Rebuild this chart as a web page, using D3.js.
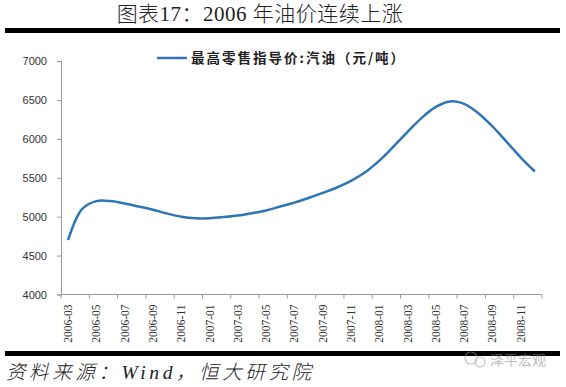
<!DOCTYPE html>
<html>
<head>
<meta charset="utf-8">
<script src="https://cdn.jsdelivr.net/npm/d3@7"></script>
<style>
  body { margin: 0; background: #fff; }
  svg { display: block; }
</style>
</head>
<body>
<svg id="chart" width="566" height="387"></svg>
<script>
// monthly categories 2006-03 .. 2008-12
const months = [
    "2006-03", "2006-04", "2006-05", "2006-06", "2006-07", "2006-08", "2006-09", "2006-10",
    "2006-11", "2006-12", "2007-01", "2007-02", "2007-03", "2007-04", "2007-05", "2007-06",
    "2007-07", "2007-08", "2007-09", "2007-10", "2007-11", "2007-12", "2008-01", "2008-02",
    "2008-03", "2008-04", "2008-05", "2008-06", "2008-07", "2008-08", "2008-09", "2008-10",
    "2008-11", "2008-12"
];
const gasoline = [
    4700, 5100, 5200, 5200, 5170, 5130, 5090, 5040,
    5000, 4980, 4980, 4995, 5015, 5045, 5080, 5130,
    5180, 5240, 5305, 5375, 5460, 5570, 5720, 5900,
    6090, 6270, 6410, 6480, 6450, 6330, 6160, 5960,
    5760, 5580
];
const yTicks = [4000, 4500, 5000, 5500, 6000, 6500, 7000];
const seriesName = "最高零售指导价:汽油（元/吨）";

const svg = d3.select("#chart");
const plotLeft = 61, plotRight = 542, plotTop = 61, plotBottom = 294.5;

const x = d3.scaleBand().domain(months).range([plotLeft, plotRight]);
const y = d3.scaleLinear().domain([4000, 7000]).range([plotBottom, plotTop]);

// title + rules
svg.append("text")
    .attr("x", 260).attr("y", 21)
    .attr("text-anchor", "middle")
    .attr("font-family", "'Liberation Serif', 'Noto Sans CJK SC'")
    .attr("font-size", 21)
    .attr("font-weight", 300)
    .attr("letter-spacing", 0.5)
    .attr("fill", "#222")
    .text("图表17：2006 年油价连续上涨");
svg.append("rect").attr("x", 5).attr("y", 28).attr("width", 555).attr("height", 5).attr("fill", "#000");
svg.append("rect").attr("x", 5).attr("y", 351).attr("width", 555).attr("height", 5).attr("fill", "#000");

// y axis
const yAxis = svg.append("g")
    .attr("transform", `translate(${plotLeft},0)`)
    .call(d3.axisLeft(y).tickValues(yTicks).tickSize(4).tickPadding(10).tickFormat(d3.format("d")));
yAxis.select(".domain").attr("stroke", "#999");
yAxis.selectAll(".tick line").attr("stroke", "#999");
yAxis.selectAll("text")
    .attr("font-family", "'Liberation Sans', Arial, sans-serif")
    .attr("font-size", 11)
    .attr("fill", "#333");

// x axis: ticks every 2 months at band edges, labels on the first month of each pair
const xg = svg.append("g");
xg.append("line")
    .attr("x1", plotLeft).attr("x2", plotRight)
    .attr("y1", plotBottom).attr("y2", plotBottom)
    .attr("stroke", "#999");
const tickMonths = months.filter((m, i) => i % 2 === 0);
xg.selectAll("line.tk")
    .data(tickMonths.concat(["end"]))
    .join("line")
    .attr("class", "tk")
    .attr("x1", d => d === "end" ? plotRight : x(d))
    .attr("x2", d => d === "end" ? plotRight : x(d))
    .attr("y1", plotBottom).attr("y2", plotBottom + 4)
    .attr("stroke", "#999");
xg.selectAll("text")
    .data(tickMonths)
    .join("text")
    .attr("transform", d => `translate(${x(d) + x.bandwidth() / 2 + 4},${plotBottom + 10}) rotate(-90)`)
    .attr("text-anchor", "end")
    .attr("font-family", "'Liberation Serif', 'Times New Roman', serif")
    .attr("font-size", 11.5)
    .attr("fill", "#333")
    .text(d => d);

// series
const line = d3.line()
    .x((d, i) => x(months[i]) + x.bandwidth() / 2)
    .y(d => y(d))
    .curve(d3.curveCatmullRom.alpha(0.5));
svg.append("path")
    .datum(gasoline)
    .attr("d", line)
    .attr("fill", "none")
    .attr("stroke", "#2f75b5")
    .attr("stroke-width", 2.5);

// legend
svg.append("line")
    .attr("x1", 157).attr("x2", 187).attr("y1", 58).attr("y2", 58)
    .attr("stroke", "#2f75b5").attr("stroke-width", 2.5);
svg.append("text")
    .attr("x", 191).attr("y", 63)
    .attr("font-family", "'Noto Sans CJK SC'")
    .attr("font-weight", "bold")
    .attr("font-size", 13.5)
    .attr("letter-spacing", 2)
    .attr("fill", "#222")
    .text(seriesName);

// source
svg.append("text")
    .attr("x", 6).attr("y", 379)
    .attr("font-family", "'Liberation Serif', 'Noto Sans CJK SC'")
    .attr("font-style", "italic")
    .attr("font-weight", 300)
    .attr("font-size", 19.5)
    .attr("letter-spacing", 3.6)
    .attr("fill", "#222")
    .text("资料来源：Wind，恒大研究院");

// watermark
const wm = svg.append("g").attr("opacity", 0.55);
wm.append("circle").attr("cx", 471).attr("cy", 358).attr("r", 6).attr("fill", "none").attr("stroke", "#999").attr("stroke-width", 1.2);
wm.append("circle").attr("cx", 480).attr("cy", 362).attr("r", 5).attr("fill", "none").attr("stroke", "#999").attr("stroke-width", 1.2);
wm.append("text")
    .attr("x", 490).attr("y", 365)
    .attr("font-family", "'Noto Sans CJK SC'")
    .attr("font-size", 14)
    .attr("fill", "#888")
    .text("泽平宏观");
</script>
</body>
</html>
